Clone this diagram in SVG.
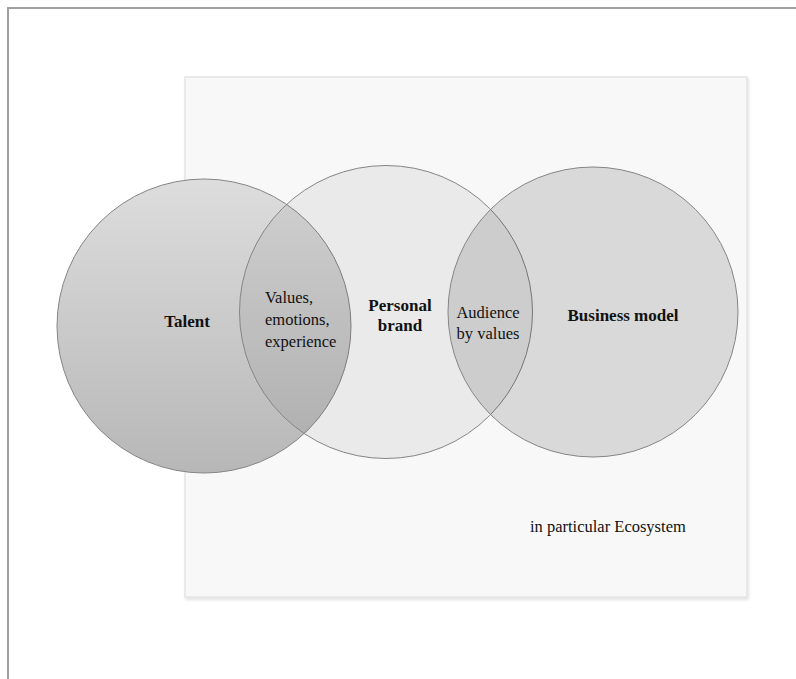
<svg xmlns="http://www.w3.org/2000/svg" width="796" height="679" viewBox="0 0 796 679">
  <defs>
    <linearGradient id="gTalent" x1="0" y1="0" x2="0" y2="1">
      <stop offset="0" stop-color="#dddddd"/>
      <stop offset="1" stop-color="#b7b7b7"/>
    </linearGradient>
    <filter id="shadow" x="-5%" y="-5%" width="110%" height="110%">
      <feDropShadow dx="1" dy="2" stdDeviation="1.5" flood-color="#000" flood-opacity="0.12"/>
    </filter>
  </defs>
  <style>
    .circle { stroke: #858585; stroke-width: 1; }
    .lbl { font-family: "Liberation Serif", "Times New Roman", serif; font-size: 16.5px; fill: #111; }
    .bold { font-weight: bold; }
  </style>
  <rect x="0" y="0" width="796" height="679" fill="#fff"/>
  <g id="frame">
    <path d="M8 679 V8 H796" fill="none" stroke="#a0a0a0" stroke-width="2"/>
  </g>
  <g id="ecosystem">
    <rect x="185" y="77" width="562" height="520" fill="#f8f8f8" stroke="#e4e4e4" stroke-width="1.5" filter="url(#shadow)"/>
    <text class="lbl" x="530" y="532" style="font-size:16.5px">in particular Ecosystem</text>
  </g>
  <g id="talent">
    <circle class="circle" cx="204" cy="326" r="147" fill="url(#gTalent)"/>
  </g>
  <g id="personal-brand">
    <circle class="circle" cx="386" cy="312" r="146.5" fill="#000" fill-opacity="0.055"/>
  </g>
  <g id="business-model">
    <circle class="circle" cx="593" cy="312" r="145" fill="#000" fill-opacity="0.12"/>
  </g>
  <g id="labels">
    <text class="lbl bold" x="187" y="327" text-anchor="middle" style="font-size:17px">Talent</text>
    <text class="lbl" x="265" y="303">Values,</text>
    <text class="lbl" x="265" y="325">emotions,</text>
    <text class="lbl" x="265" y="347">experience</text>
    <text class="lbl bold" x="400" y="311" text-anchor="middle" style="font-size:17px">Personal</text>
    <text class="lbl bold" x="400" y="331" text-anchor="middle" style="font-size:17px">brand</text>
    <text class="lbl" x="488" y="318" text-anchor="middle">Audience</text>
    <text class="lbl" x="488" y="339" text-anchor="middle">by values</text>
    <text class="lbl bold" x="623" y="321" text-anchor="middle" style="font-size:17px">Business model</text>
  </g>
</svg>
